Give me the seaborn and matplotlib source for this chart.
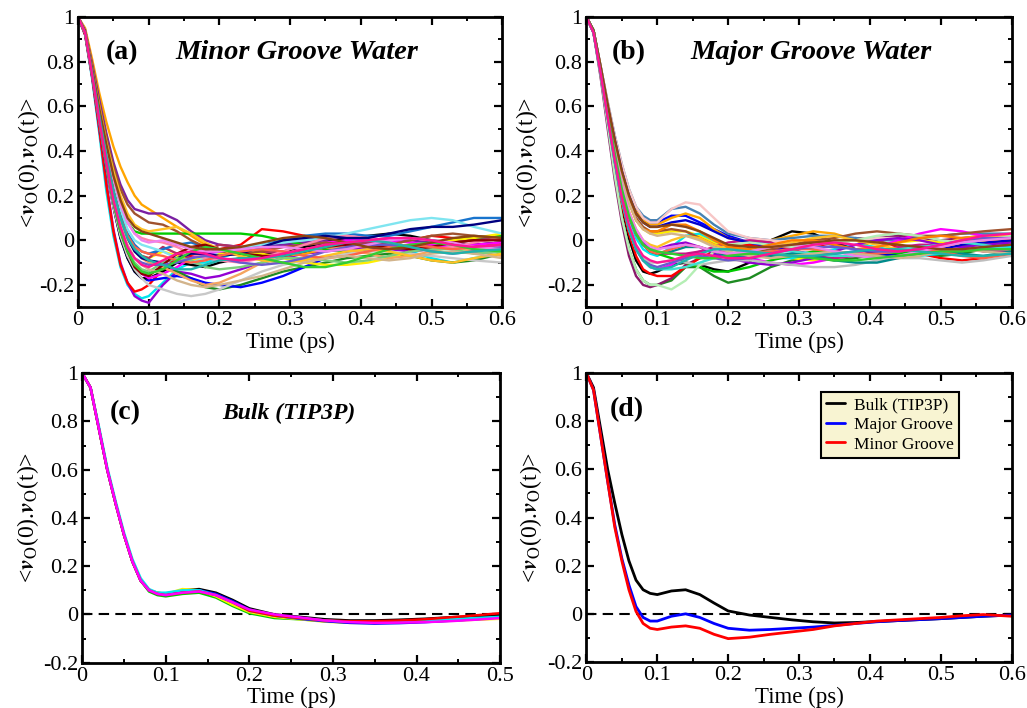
"""Velocity autocorrelation of groove / bulk water oxygens (4 panels)."""
import matplotlib
matplotlib.use("Agg")
import matplotlib.pyplot as plt
import numpy as np
import pandas as pd
import seaborn as sns
from matplotlib.ticker import FuncFormatter, MultipleLocator

# ---- data -----------------------------------------------------------------
T_GROOVE = [0, .01, .02, .03, .04, .05, .06, .07, .08, .09, .10, .12, .14, .16, .18, .20,
            .23, .26, .29, .32, .35, .38, .41, .44, .47, .50, .53, .56, .60]

# panel (a): individual minor-groove waters
MINOR_COLORS = ["#00e5ee", "#9400d3", "#ff0000", "#ffa500", "#7a1fa2", "#00cc00",
                "#1e8b22", "#0000ff", "#000000", "#ffee00", "#b03060", "#1874cd",
                "#7fe5f0", "#ff00ff", "#c8c8c8", "#f4a460", "#a0522d", "#ff82ab",
                "#000080", "#7ccd7c", "#ffc125", "#8b0000", "#ff6347", "#6a5acd",
                "#d2b48c", "#ee82ee", "#32cd32", "#8b4513", "#20b2aa", "#ff1493"]
MINOR_CURVES = [
    [1, .92, .72, .48, .22, .02, -.12, -.20, -.24, -.26, -.25, -.19, -.13, -.10, -.10, -.08, -.05, -.03, -.02, -.01, .00, .01, .00, -.02, -.05, -.08, -.10, -.08, -.06],
    [1, .92, .73, .50, .26, .05, -.10, -.19, -.25, -.27, -.28, -.20, -.14, -.15, -.17, -.16, -.13, -.10, -.08, -.06, -.05, -.04, -.03, -.04, -.05, -.04, -.03, -.02, -.01],
    [1, .92, .73, .50, .25, .04, -.11, -.19, -.23, -.22, -.20, -.13, -.08, -.07, -.06, -.04, -.02, .05, .04, .02, .00, -.02, -.03, -.02, .00, .02, .01, .00, .02],
    [1, .95, .81, .66, .53, .42, .33, .26, .20, .16, .14, .10, .06, .02, -.02, -.05, -.07, -.08, -.07, -.06, -.04, -.03, -.02, .00, .01, .00, -.02, -.04, -.05],
    [1, .94, .79, .63, .48, .35, .25, .18, .14, .13, .12, .12, .09, .04, .00, -.02, -.03, -.02, -.02, -.01, .00, .01, .00, .01, .00, -.01, .00, .01, .00],
    [1, .94, .76, .58, .42, .28, .16, .08, .04, .03, .03, .03, .03, .03, .03, .03, .03, .02, .00, -.02, -.04, -.05, -.05, -.04, -.03, -.02, .00, .01, .02],
    [1, .93, .74, .54, .34, .17, .04, -.05, -.11, -.14, -.15, -.12, -.14, -.17, -.21, -.22, -.20, -.17, -.14, -.12, -.10, -.08, -.07, -.06, -.07, -.09, -.10, -.09, -.06],
    [1, .93, .74, .53, .32, .15, .01, -.08, -.14, -.17, -.18, -.17, -.16, -.17, -.19, -.20, -.21, -.19, -.16, -.12, -.08, -.05, -.04, -.03, -.02, -.03, -.04, -.03, -.02],
    [1, .93, .74, .53, .33, .15, .01, -.08, -.14, -.17, -.17, -.14, -.10, -.11, -.12, -.10, -.08, -.06, -.05, -.03, -.01, .01, .02, .03, .02, .00, -.01, -.02, -.01],
    [1, .93, .75, .56, .38, .22, .10, .01, -.04, -.07, -.08, -.05, -.07, -.09, -.08, -.06, -.05, -.06, -.08, -.10, -.11, -.11, -.10, -.08, -.05, -.02, .00, .01, .03],
    [1, .93, .75, .56, .38, .22, .10, .01, -.04, -.07, -.08, -.03, -.06, -.08, -.05, -.02, -.03, -.05, -.06, -.05, -.03, -.01, -.01, -.02, -.03, -.02, -.01, .00, .01],
    [1, .93, .75, .57, .39, .24, .12, .03, -.02, -.05, -.06, -.04, -.02, -.01, -.03, -.05, -.04, -.02, .00, .02, .03, .03, .02, .02, .04, .06, .08, .10, .10],
    [1, .94, .76, .58, .41, .26, .14, .05, .00, -.02, -.03, -.05, -.08, -.10, -.08, -.05, -.03, -.02, -.01, .00, .01, .03, .05, .07, .09, .10, .09, .06, .03],
    [1, .93, .74, .54, .34, .17, .04, -.05, -.11, -.15, -.17, -.15, -.12, -.08, -.06, -.05, -.04, -.04, -.03, -.02, -.01, .00, .01, .00, -.01, -.02, -.03, -.02, -.01],
    [1, .93, .74, .53, .33, .15, .02, -.07, -.13, -.17, -.20, -.22, -.24, -.25, -.24, -.22, -.18, -.14, -.11, -.09, -.07, -.06, -.05, -.05, -.06, -.07, -.08, -.09, -.10],
    [1, .93, .75, .56, .38, .22, .10, .01, -.05, -.08, -.10, -.12, -.15, -.18, -.20, -.19, -.15, -.10, -.06, -.04, -.03, -.04, -.06, -.08, -.07, -.05, -.03, -.05, -.07],
    [1, .94, .78, .61, .46, .33, .23, .16, .12, .10, .08, .07, .04, .00, -.03, -.05, -.06, -.05, -.03, -.02, -.01, -.02, -.03, -.02, .00, .02, .03, .02, .01],
    [1, .94, .76, .58, .42, .28, .16, .08, .03, .01, .00, -.01, -.03, -.06, -.08, -.09, -.10, -.08, -.05, -.02, .01, .02, .01, -.01, -.03, -.04, -.03, -.01, .01],
    [1, .93, .75, .56, .38, .22, .10, .01, -.05, -.08, -.09, -.10, -.08, -.06, -.06, -.07, -.06, -.03, .00, .01, .02, .01, .01, .03, .05, .06, .06, .07, .09],
    [1, .93, .74, .54, .34, .17, .04, -.05, -.10, -.13, -.14, -.10, -.08, -.09, -.12, -.13, -.12, -.10, -.08, -.08, -.09, -.10, -.09, -.07, -.05, -.04, -.04, -.06, -.05],
    [1, .94, .77, .60, .44, .31, .20, .12, .07, .05, .04, .05, .06, .03, -.01, -.04, -.07, -.09, -.10, -.09, -.07, -.05, -.04, -.05, -.07, -.09, -.10, -.08, -.06],
    [1, .93, .74, .54, .34, .17, .04, -.05, -.12, -.15, -.16, -.11, -.06, -.03, -.02, -.04, -.06, -.07, -.07, -.05, -.03, -.02, -.02, -.03, -.04, -.03, -.01, .00, .00],
    [1, .93, .75, .56, .38, .22, .10, .02, -.03, -.05, -.06, -.07, -.09, -.10, -.09, -.07, -.05, -.04, -.05, -.07, -.08, -.07, -.05, -.03, -.02, -.03, -.04, -.03, -.02],
    [1, .93, .74, .54, .34, .17, .05, -.03, -.08, -.10, -.11, -.11, -.10, -.08, -.07, -.08, -.10, -.11, -.10, -.08, -.05, -.03, -.02, -.02, -.03, -.05, -.06, -.05, -.03],
    [1, .93, .75, .55, .36, .20, .07, -.02, -.08, -.11, -.13, -.15, -.18, -.20, -.21, -.20, -.18, -.16, -.13, -.10, -.08, -.07, -.08, -.09, -.08, -.06, -.05, -.06, -.08],
    [1, .94, .76, .58, .42, .28, .16, .08, .03, .00, -.01, .00, -.02, -.04, -.05, -.05, -.04, -.03, -.03, -.04, -.05, -.04, -.02, .00, .01, .00, -.01, -.03, -.04],
    [1, .93, .74, .54, .34, .17, .04, -.05, -.11, -.14, -.15, -.13, -.09, -.05, -.03, -.04, -.06, -.08, -.10, -.12, -.12, -.10, -.07, -.04, -.02, -.01, -.02, -.04, -.05],
    [1, .94, .77, .59, .43, .29, .18, .10, .06, .04, .03, .01, -.01, -.03, -.04, -.04, -.03, -.01, .01, .02, .01, -.01, -.03, -.04, -.03, -.01, .01, .02, .01],
    [1, .93, .75, .56, .38, .22, .10, .01, -.04, -.07, -.09, -.11, -.13, -.13, -.11, -.09, -.08, -.08, -.07, -.05, -.03, -.01, .00, -.01, -.03, -.05, -.06, -.05, -.04],
    [1, .93, .74, .54, .35, .18, .06, -.03, -.08, -.11, -.12, -.09, -.06, -.05, -.06, -.08, -.09, -.08, -.06, -.04, -.02, -.01, .00, .01, .01, .00, -.02, -.03, -.02],
]

# panel (b): individual major-groove waters
MAJOR_COLORS = ["#000000", "#1e8b22", "#8b1a6b", "#ff0000", "#0000ff", "#ffa500",
                "#4682b4", "#f7c6c6", "#ffee00", "#00e5ee", "#ff00ff", "#c71585",
                "#00cc00", "#9400d3", "#0000cd", "#a0522d", "#bebebe", "#b4eeb4",
                "#ffc125", "#40e0d0", "#ff7f00", "#008b8b", "#ff6347", "#6a5acd",
                "#d2b48c", "#ee82ee", "#32cd32", "#8b4513", "#20b2aa", "#ff1493"]
MAJOR_CURVES = [
    [1, .93, .75, .54, .33, .15, .01, -.09, -.14, -.15, -.14, -.11, -.10, -.11, -.13, -.14, -.10, .00, .04, .03, -.01, -.04, -.05, -.04, -.03, -.03, -.02, -.01, .00],
    [1, .93, .74, .52, .29, .10, -.04, -.13, -.18, -.20, -.20, -.18, -.12, -.12, -.16, -.19, -.17, -.12, -.09, -.08, -.09, -.08, -.06, -.05, -.06, -.07, -.06, -.04, -.03],
    [1, .93, .73, .50, .27, .08, -.07, -.16, -.20, -.21, -.20, -.17, -.11, -.08, -.07, -.06, -.05, -.04, -.03, -.02, -.01, .00, .01, .02, .01, .00, .01, .02, .02],
    [1, .93, .75, .54, .34, .16, .03, -.07, -.13, -.15, -.16, -.16, -.12, -.08, -.05, -.03, -.02, -.03, -.04, -.03, -.01, .01, .00, -.03, -.06, -.08, -.09, -.08, -.05],
    [1, .94, .78, .61, .46, .33, .22, .14, .10, .08, .08, .11, .11, .08, .05, .02, -.01, -.03, -.05, -.06, -.06, -.05, -.04, -.04, -.05, -.06, -.05, -.03, -.02],
    [1, .94, .78, .61, .46, .32, .21, .13, .09, .07, .07, .10, .12, .10, .05, .01, -.01, .00, .02, .04, .03, .00, -.04, -.06, -.05, -.02, .01, .02, .02],
    [1, .94, .78, .62, .47, .34, .23, .15, .11, .09, .09, .14, .15, .12, .07, .03, .01, .00, .01, .02, .02, .01, .00, .00, .01, .02, .03, .03, .03],
    [1, .94, .78, .62, .47, .34, .23, .15, .10, .08, .08, .14, .17, .16, .10, .04, .01, .00, -.01, -.02, -.01, .00, .01, .01, .00, -.01, .00, .01, .02],
    [1, .94, .77, .59, .43, .29, .17, .09, .05, .03, .03, .04, .04, .02, -.01, -.03, -.05, -.06, -.08, -.09, -.08, -.06, -.03, -.01, .00, -.01, -.02, -.01, .01],
    [1, .94, .76, .57, .38, .22, .10, .01, -.04, -.06, -.07, -.03, .02, .03, .00, -.03, -.06, -.08, -.08, -.06, -.04, -.02, -.03, -.05, -.07, -.06, -.04, -.04, -.03],
    [1, .93, .75, .55, .35, .18, .05, -.04, -.09, -.12, -.13, -.11, -.07, -.05, -.04, -.05, -.08, -.10, -.11, -.10, -.08, -.06, -.03, .00, .03, .05, .04, .02, .00],
    [1, .94, .76, .57, .39, .23, .11, .03, -.02, -.05, -.06, -.06, -.06, -.05, -.03, -.01, .00, -.01, -.04, -.07, -.08, -.07, -.05, -.03, -.02, -.02, -.03, -.05, -.05],
    [1, .94, .76, .57, .39, .23, .11, .03, -.02, -.05, -.06, -.08, -.10, -.12, -.14, -.14, -.12, -.09, -.07, -.05, -.05, -.06, -.07, -.06, -.04, -.02, -.01, .00, .00],
    [1, .94, .76, .57, .39, .23, .11, .03, -.01, -.03, -.04, -.02, -.01, -.03, -.06, -.08, -.10, -.11, -.10, -.08, -.05, -.02, .00, .01, .00, -.02, -.03, -.02, -.01],
    [1, .94, .77, .60, .45, .31, .20, .12, .08, .06, .06, .08, .09, .07, .04, .01, -.01, -.02, -.02, -.01, -.02, -.04, -.06, -.07, -.06, -.04, -.02, -.01, .00],
    [1, .94, .77, .59, .44, .30, .18, .10, .06, .04, .04, .05, .04, .01, -.02, -.04, -.05, -.04, -.02, .00, .01, .03, .04, .03, .02, .02, .03, .04, .05],
    [1, .93, .75, .55, .35, .18, .05, -.04, -.08, -.10, -.10, -.09, -.10, -.11, -.10, -.09, -.09, -.10, -.11, -.12, -.12, -.11, -.09, -.08, -.08, -.09, -.10, -.09, -.07],
    [1, .93, .74, .52, .29, .10, -.04, -.13, -.18, -.20, -.20, -.22, -.18, -.11, -.05, -.02, -.01, -.02, -.03, -.02, -.01, .00, .02, .03, .02, .00, -.01, .00, .02],
    [1, .94, .76, .58, .40, .25, .13, .05, .00, -.02, -.03, .00, .02, .01, -.02, -.04, -.05, -.03, -.01, .01, .02, .00, -.02, -.04, -.05, -.03, -.01, .01, .03],
    [1, .93, .75, .55, .35, .18, .05, -.04, -.09, -.12, -.13, -.13, -.12, -.10, -.08, -.07, -.06, -.05, -.05, -.06, -.07, -.07, -.06, -.04, -.03, -.02, -.01, -.02, -.04],
    [1, .94, .77, .59, .43, .29, .17, .09, .05, .04, .04, .07, .07, .04, .00, -.03, -.04, -.02, .00, .00, -.02, -.04, -.03, -.01, .01, .02, .01, .00, .01],
    [1, .94, .76, .57, .39, .23, .11, .03, -.02, -.05, -.06, -.05, -.03, -.03, -.05, -.07, -.08, -.07, -.06, -.07, -.09, -.10, -.10, -.08, -.06, -.05, -.06, -.07, -.05],
    [1, .94, .76, .57, .39, .23, .11, .03, -.02, -.05, -.06, -.04, -.02, -.03, -.05, -.06, -.06, -.05, -.04, -.04, -.05, -.06, -.06, -.05, -.04, -.05, -.07, -.08, -.06],
    [1, .93, .75, .55, .35, .18, .05, -.04, -.09, -.11, -.12, -.10, -.08, -.07, -.08, -.09, -.08, -.06, -.04, -.03, -.03, -.04, -.05, -.05, -.04, -.02, .00, .01, .01],
    [1, .94, .77, .59, .43, .29, .17, .09, .05, .03, .02, .03, .02, .00, -.03, -.05, -.07, -.08, -.07, -.06, -.05, -.06, -.07, -.08, -.07, -.05, -.04, -.05, -.06],
    [1, .94, .76, .58, .40, .25, .13, .05, .00, -.03, -.04, -.03, -.02, -.03, -.05, -.06, -.05, -.03, -.02, -.03, -.05, -.07, -.08, -.07, -.05, -.03, -.01, .00, .01],
    [1, .94, .76, .57, .39, .23, .11, .03, -.02, -.04, -.05, -.06, -.07, -.08, -.08, -.07, -.06, -.06, -.07, -.08, -.09, -.09, -.08, -.07, -.06, -.05, -.05, -.04, -.04],
    [1, .94, .78, .61, .45, .31, .20, .12, .08, .06, .06, .07, .06, .04, .01, -.02, -.03, -.03, -.02, -.01, .00, .00, -.01, -.02, -.03, -.04, -.04, -.03, -.02],
    [1, .93, .75, .55, .35, .18, .05, -.04, -.09, -.12, -.13, -.12, -.09, -.06, -.04, -.04, -.05, -.06, -.07, -.07, -.06, -.05, -.04, -.04, -.05, -.06, -.07, -.07, -.06],
    [1, .93, .75, .55, .36, .19, .07, -.02, -.07, -.09, -.10, -.09, -.07, -.06, -.07, -.08, -.08, -.06, -.04, -.02, -.01, -.02, -.04, -.05, -.04, -.02, .00, .02, .03],
]

# panel (c): bulk TIP3P water, several independent runs
T_BULK = [0, .01, .02, .03, .04, .05, .06, .07, .08, .09, .10, .12, .14, .16, .18, .20,
          .23, .26, .29, .32, .35, .38, .41, .44, .47, .50]
BULK_COLORS = ["#000000", "#00cc00", "#ffee00", "#0000ff", "#00e5ee", "#ff0000", "#ff00ff"]
BULK_CURVES = [
    [1, .94, .77, .60, .46, .33, .22, .14, .10, .09, .085, .10, .105, .09, .06, .025, .00, -.01, -.02, -.025, -.025, -.022, -.018, -.012, -.008, -.004],
    [1, .94, .77, .60, .46, .33, .22, .14, .095, .08, .075, .085, .09, .07, .035, .005, -.015, -.02, -.028, -.033, -.035, -.033, -.03, -.025, -.02, -.015],
    [1, .94, .77, .60, .46, .33, .22, .14, .10, .09, .085, .105, .10, .075, .04, .01, -.01, -.02, -.03, -.035, -.035, -.032, -.03, -.026, -.022, -.018],
    [1, .94, .77, .60, .46, .33, .22, .14, .10, .085, .08, .095, .10, .085, .055, .02, -.005, -.018, -.028, -.035, -.038, -.036, -.032, -.026, -.02, -.012],
    [1, .94, .78, .61, .47, .34, .23, .15, .105, .09, .09, .10, .10, .08, .05, .015, -.005, -.015, -.025, -.03, -.03, -.028, -.025, -.02, -.015, -.01],
    [1, .94, .77, .60, .46, .33, .22, .14, .10, .085, .08, .09, .095, .08, .05, .015, -.005, -.015, -.025, -.028, -.028, -.025, -.02, -.012, -.004, .005],
    [1, .94, .77, .60, .46, .33, .22, .14, .10, .085, .08, .09, .095, .08, .05, .02, .00, -.012, -.025, -.032, -.035, -.034, -.032, -.028, -.022, -.015],
]

# panel (d): averages
AVG_LABELS = ["Bulk (TIP3P)", "Major Groove", "Minor Groove"]
AVG_COLORS = ["#000000", "#0000ff", "#ff0000"]
AVG_BULK = [1, .94, .77, .60, .46, .33, .22, .14, .10, .085, .08, .095, .10, .08, .045, .012,
            -.005, -.015, -.025, -.033, -.038, -.036, -.032, -.028, -.024, -.02, -.015, -.01, -.005]
AVG_MAJOR = [1, .93, .74, .55, .37, .23, .12, .03, -.015, -.03, -.03, -.01, .00, -.015, -.04, -.06,
             -.068, -.065, -.06, -.055, -.048, -.04, -.033, -.028, -.024, -.02, -.015, -.01, -.005]
AVG_MINOR = [1, .93, .74, .55, .36, .22, .10, .01, -.04, -.06, -.065, -.055, -.05, -.06, -.085, -.103,
             -.097, -.085, -.075, -.065, -.05, -.04, -.03, -.025, -.02, -.015, -.008, -.003, -.01]

YLABEL = r"<$\boldsymbol{v}_{\mathrm{O}}$(0).$\boldsymbol{v}_{\mathrm{O}}$(t)>"

sns.set_theme(style="ticks")
plt.rcParams.update({
    "font.family": ["Liberation Serif", "DejaVu Serif"],
    "mathtext.fontset": "stix",
    "axes.unicode_minus": False,
    "text.color": "black",
    "axes.labelcolor": "black",
    "axes.linewidth": 2.0,
    "axes.edgecolor": "black",
    "xtick.direction": "in", "ytick.direction": "in",
    "xtick.top": True, "ytick.right": True,
    "xtick.major.size": 6, "ytick.major.size": 6,
    "xtick.minor.size": 3, "ytick.minor.size": 3,
    "xtick.major.width": 1.6, "ytick.major.width": 1.6,
    "xtick.minor.width": 1.4, "ytick.minor.width": 1.4,
    "xtick.labelsize": 16, "ytick.labelsize": 16,
    "xtick.color": "black", "ytick.color": "black",
    "xtick.labelcolor": "black", "ytick.labelcolor": "black",
})


def long_frame(t, curves, names=None):
    names = names if names is not None else list(range(len(curves)))
    return pd.DataFrame({
        "t": np.tile(np.asarray(t, float), len(curves)),
        "c": np.concatenate([np.asarray(c, float) for c in curves]),
        "line": np.repeat(names, len(t)),
    })


def fmt(v, _pos):
    return f"{round(v, 3) + 0.0:g}"


def style(ax, xmax, ymin, ylab_x):
    ax.set_xlim(0, xmax)
    ax.set_ylim(ymin, 1)
    ax.xaxis.set_major_locator(MultipleLocator(0.1))
    ax.xaxis.set_minor_locator(MultipleLocator(0.05))
    ax.yaxis.set_major_locator(MultipleLocator(0.2))
    ax.yaxis.set_minor_locator(MultipleLocator(0.1))
    ax.xaxis.set_major_formatter(FuncFormatter(fmt))
    ax.yaxis.set_major_formatter(FuncFormatter(fmt))
    ax.tick_params(which="both", top=True, right=True, pad=3)
    ax.set_xlabel("Time (ps)", fontsize=16.5, labelpad=1)
    ax.set_ylabel(YLABEL, fontsize=17)
    ax.yaxis.set_label_coords(ylab_x, 0.5)
    for s in ax.spines.values():
        s.set_linewidth(2.0)


def panel_text(ax, tag, tag_x, title, title_x, y, size):
    ax.text(tag_x, y, tag, transform=ax.transAxes, fontsize=20, fontweight="bold",
            va="center", ha="left")
    if title:
        ax.text(title_x, y, title, transform=ax.transAxes, fontsize=size,
                fontweight="bold", fontstyle="italic", va="center", ha="left")


fig = plt.figure(figsize=(10.27, 7.08), dpi=100)
ax_a = fig.add_axes([0.076, 0.566, 0.413, 0.410])
ax_b = fig.add_axes([0.571, 0.566, 0.414, 0.410])
ax_c = fig.add_axes([0.080, 0.064, 0.407, 0.409])
ax_d = fig.add_axes([0.571, 0.065, 0.414, 0.408])

# (a)
df_a = long_frame(T_GROOVE, MINOR_CURVES)
sns.lineplot(data=df_a, x="t", y="c", hue="line", palette=dict(enumerate(MINOR_COLORS)),
             estimator=None, sort=False, legend=False, lw=1.7, ax=ax_a)
style(ax_a, 0.6, -0.3, -0.085)
panel_text(ax_a, "(a)", 0.066, "Minor Groove Water", 0.229, 0.876, 20.5)

# (b)
df_b = long_frame(T_GROOVE, MAJOR_CURVES)
sns.lineplot(data=df_b, x="t", y="c", hue="line", palette=dict(enumerate(MAJOR_COLORS)),
             estimator=None, sort=False, legend=False, lw=1.7, ax=ax_b)
style(ax_b, 0.6, -0.3, -0.11)
panel_text(ax_b, "(b)", 0.059, "Major Groove Water", 0.244, 0.876, 20.5)

# (c)
df_c = long_frame(T_BULK, BULK_CURVES)
ax_c.axhline(0, color="black", ls=(0, (5, 3)), lw=1.5, zorder=1)
sns.lineplot(data=df_c, x="t", y="c", hue="line", palette=dict(enumerate(BULK_COLORS)),
             estimator=None, sort=False, legend=False, lw=1.8, ax=ax_c)
style(ax_c, 0.5, -0.2, -0.098)
panel_text(ax_c, "(c)", 0.065, "Bulk (TIP3P)", 0.335, 0.862, 17)

# (d)
df_d = long_frame(T_GROOVE, [AVG_BULK, AVG_MAJOR, AVG_MINOR], AVG_LABELS)
ax_d.axhline(0, color="black", ls=(0, (5, 3)), lw=1.5, zorder=1)
sns.lineplot(data=df_d, x="t", y="c", hue="line", hue_order=AVG_LABELS,
             palette=dict(zip(AVG_LABELS, AVG_COLORS)),
             estimator=None, sort=False, lw=2.0, ax=ax_d)
style(ax_d, 0.6, -0.2, -0.10)
panel_text(ax_d, "(d)", 0.054, None, 0, 0.875, 18)
leg = ax_d.legend(loc="upper left", bbox_to_anchor=(0.552, 0.935), fontsize=12.5,
                  frameon=True, fancybox=False, handlelength=1.1, handletextpad=0.5,
                  borderpad=0.3, labelspacing=0.2, borderaxespad=0)
leg.get_frame().set_facecolor("#f8f4d2")
leg.get_frame().set_edgecolor("black")
leg.get_frame().set_linewidth(1.5)
leg.get_frame().set_alpha(1)

fig.savefig("out.png", dpi=100)
